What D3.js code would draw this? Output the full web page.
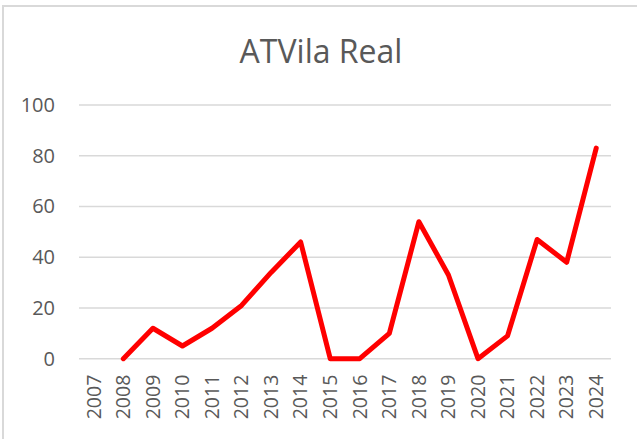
<!DOCTYPE html>
<html>
<head>
<meta charset="utf-8">
<script src="https://cdn.jsdelivr.net/npm/d3@7"></script>
<style>
  body { margin: 0; background: #fff; }
  text { font-family: "Open Sans", sans-serif; fill: #595959; }
</style>
</head>
<body>
<div id="chart"></div>
<script>
var chartTitle = "ATVila Real";
var years = ["2007", "2008", "2009", "2010", "2011", "2012", "2013", "2014", "2015",
             "2016", "2017", "2018", "2019", "2020", "2021", "2022", "2023", "2024"];
var values = [null, 0, 12, 5, 12, 21, 34, 46, 0, 0, 10, 54, 33, 0, 9, 47, 38, 83];
var yTicks = [0, 20, 40, 60, 80, 100];

var width = 637, height = 439;
var margin = {top: 105, right: 26, bottom: 80, left: 79};

var svg = d3.select("#chart").append("svg")
    .attr("width", width)
    .attr("height", height);

// chart border
svg.append("rect")
    .attr("x", 3).attr("y", 6)
    .attr("width", width + 10).attr("height", height + 10)
    .style("fill", "none")
    .style("stroke", "#d9d9d9")
    .style("stroke-width", 2);

svg.append("text")
    .attr("x", 321).attr("y", 63)
    .attr("text-anchor", "middle")
    .style("font-size", "32px")
    .text(chartTitle);

var x = d3.scaleBand()
    .domain(years)
    .range([margin.left, width - margin.right]);

var y = d3.scaleLinear()
    .domain([0, 100])
    .range([358.7, margin.top]);

var g = svg.append("g");

// gridlines
g.selectAll(".grid")
    .data(yTicks)
    .enter().append("line")
    .attr("x1", margin.left)
    .attr("x2", width - margin.right)
    .attr("y1", function(d) { return y(d); })
    .attr("y2", function(d) { return y(d); })
    .style("stroke", "#d9d9d9")
    .style("stroke-width", 1.5);

var yAxis = svg.append("g")
    .attr("transform", "translate(" + margin.left + ",0)")
    .call(d3.axisLeft(y).tickValues(yTicks).tickSize(0).tickPadding(24));
yAxis.select(".domain").remove();
yAxis.selectAll("text")
    .style("font-size", "20px")
    .style("font-family", "'Open Sans', sans-serif")
    .attr("fill", "#595959");

var xAxis = svg.append("g")
    .attr("transform", "translate(0," + y(0) + ")")
    .call(d3.axisBottom(x).tickSize(0));
xAxis.select(".domain").remove();
xAxis.selectAll("text")
    .style("font-size", "19.5px")
    .style("font-family", "'Open Sans', sans-serif")
    .attr("fill", "#595959")
    .attr("transform", "rotate(-90)")
    .attr("text-anchor", "end")
    .attr("x", -16)
    .attr("y", 0)
    .attr("dy", "0.35em");

var line = d3.line()
    .defined(function(d) { return d != null; })
    .x(function(d, i) { return x(years[i]) + x.bandwidth() / 2; })
    .y(function(d) { return y(d); });

svg.append("path")
    .datum(values)
    .attr("d", line)
    .style("fill", "none")
    .style("stroke", "#ff0000")
    .style("stroke-width", 5)
    .style("stroke-linejoin", "round")
    .style("stroke-linecap", "round");
</script>
</body>
</html>
